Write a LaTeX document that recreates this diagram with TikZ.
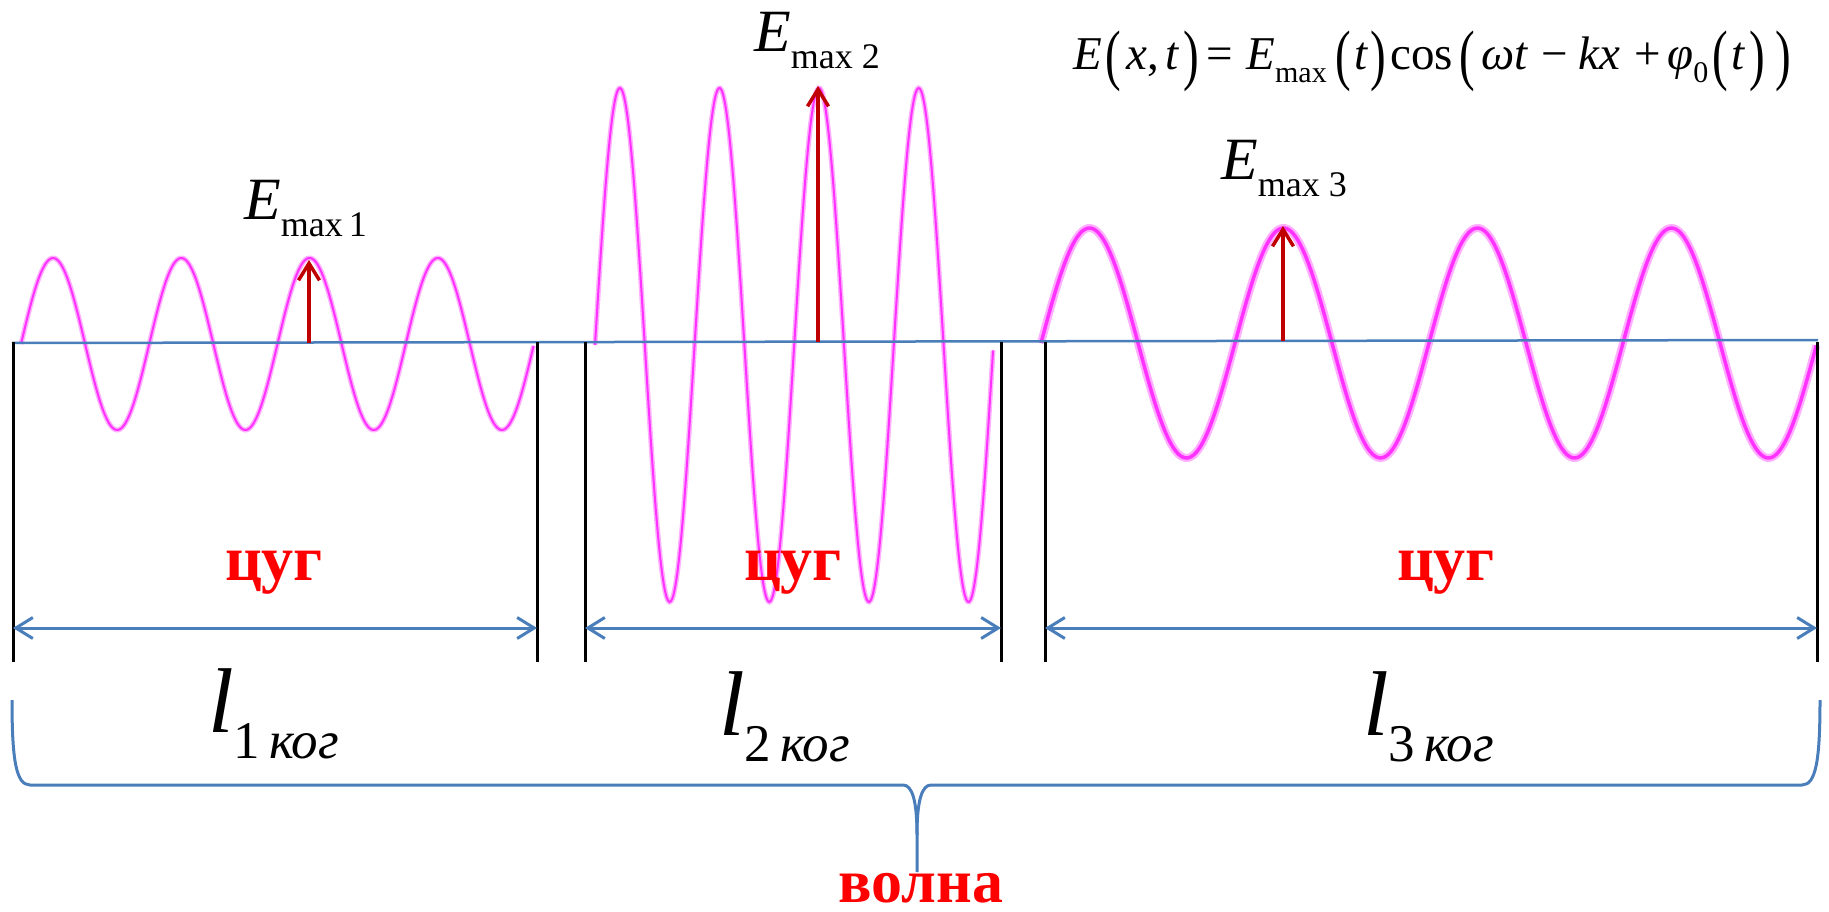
\documentclass[tikz,border=0pt]{standalone}
\usepackage{fontspec}
\setmainfont{Liberation Serif}
\usepackage{graphicx}
\usetikzlibrary{arrows.meta}
\definecolor{axisblue}{RGB}{74,126,187}
\definecolor{wavepink}{RGB}{255,50,255}
\definecolor{wavepinklight}{RGB}{255,175,255}
\definecolor{arrred}{RGB}{192,0,0}
\definecolor{lblred}{RGB}{255,0,0}
\newcommand\tallpar[1]{\raisebox{-0.15em}{\scalebox{1}[1.43]{#1}}}
\newcommand\fsub[1]{\raisebox{-13pt}{\fontsize{30}{30}\selectfont #1}}
\newcommand\esub[1]{\raisebox{-17pt}{\fontsize{36}{36}\selectfont #1}}
\newcommand\lsub[2]{\raisebox{-26pt}{\fontsize{53}{53}\selectfont #1\,\textit{#2}}}
\newcommand\gp[1]{\hskip #1pt plus #1pt\relax}
\begin{document}
\begin{tikzpicture}[x=1pt,y=-1pt,
  wave/.style={line width=2.5pt, wavepink},
  waveglow/.style={line width=5pt, wavepinklight},
  axisline/.style={line width=2.5pt, axisblue},
  divider/.style={line width=3pt, black},
  span/.style={line width=3pt, axisblue, {Straight Barb[length=17pt,width=21pt]}-{Straight Barb[length=17pt,width=21pt]}},
  amparrow/.style={line width=3.5pt, arrred, -{Straight Barb[length=17pt,width=21pt]}},
  brace/.style={line width=3pt, axisblue},
  lbl/.style={inner sep=0pt, anchor=base west},
  tag/.style={inner sep=0pt, anchor=base, text=lblred, font=\fontsize{64}{64}\selectfont\bfseries},
]
\useasboundingbox (0,0) rectangle (1829,912);

% waves
\draw[waveglow] plot[domain=0:4, samples=300, smooth] ({21+128.25*\x}, {344-86*sin(360*\x)});
\draw[wave, line width=2pt] plot[domain=0:4, samples=300, smooth] ({21+128.25*\x}, {344-86*sin(360*\x)});
\draw[waveglow] plot[domain=0:4, samples=300, smooth] ({595+99.6*\x}, {345-257*sin(360*\x)});
\draw[wave, line width=2pt] plot[domain=0:4, samples=300, smooth] ({595+99.6*\x}, {345-257*sin(360*\x)});
\draw[waveglow, line width=8pt] plot[domain=0:4, samples=300, smooth] ({1041+194*\x}, {343-115*sin(360*\x)});
\draw[wave, line width=3.5pt] plot[domain=0:4, samples=300, smooth] ({1041+194*\x}, {343-115*sin(360*\x)});

% axis
\coordinate (axL) at (12,343);
\coordinate (axR) at (1818,340);
\draw[axisline] (axL) -- (axR);

% dividers
\foreach \n/\xx in {1/13, 2/537, 3/585, 4/1001, 5/1045, 6/1817} {
  \coordinate (d\n t) at (\xx,342);
  \coordinate (d\n b) at (\xx,662);
  \coordinate (d\n m) at (\xx,628);
  \draw[divider] (d\n t) -- (d\n b);
}

% spans
\draw[span] (d1m) -- (d2m);
\draw[span] (d3m) -- (d4m);
\draw[span] (d5m) -- (d6m);

% amplitude arrows
\coordinate (p1) at (309,343); \coordinate (q1) at (309,260);
\coordinate (p2) at (818,342); \coordinate (q2) at (818,86);
\coordinate (p3) at (1283,341); \coordinate (q3) at (1283,226);
\draw[amparrow] (p1) -- (q1);
\draw[amparrow] (p2) -- (q2);
\draw[amparrow] (p3) -- (q3);

% E labels
\node[lbl, font=\fontsize{60}{60}\selectfont] (e1) at (244,220) {\textit{E}\esub{max\,1}};
\node[lbl, font=\fontsize{60}{60}\selectfont] (e2) at (754,52) {\textit{E}\esub{max 2}};
\node[lbl, font=\fontsize{60}{60}\selectfont] (e3) at (1221,180) {\textit{E}\esub{max 3}};

% formula
\node[lbl, font=\fontsize{47}{47}\selectfont] (formula) at (1073,70)
  {\hbox to 718pt{\textit{E}\gp{3}\tallpar{(}\gp{4}\textit{x},\gp{5}\textit{t}\gp{3}\tallpar{)}\gp{6}=\gp{10}\textit{E}\fsub{max}\gp{7}\tallpar{(}\gp{2}\textit{t}\gp{2}\tallpar{)}\gp{3}cos\gp{5}\tallpar{(}\gp{5}\textit{ωt}\gp{10}−\gp{8}\textit{kx}\gp{11}+\gp{5}\textit{φ}\fsub{0}\gp{3}\tallpar{(}\gp{3}\textit{t}\gp{3}\tallpar{)}\gp{8}\tallpar{)}}};

% train labels
\node[tag] (t1) at (274,580) {цуг};
\node[tag] (t2) at (793,580) {цуг};
\node[tag] (t3) at (1446,580) {цуг};

% coherence lengths
\node[lbl, font=\fontsize{92}{92}\selectfont] (l1) at (208,732) {\textit{l}\lsub{1}{ког}};
\node[lbl, font=\fontsize{92}{92}\selectfont] (l2) at (719,735) {\textit{l}\lsub{2}{ког}};
\node[lbl, font=\fontsize{92}{92}\selectfont] (l3) at (1363,735) {\textit{l}\lsub{3}{ког}};

% brace
\coordinate (bL) at (12,700);
\coordinate (bR) at (1820,700);
\coordinate (bT) at (917,872);
\draw[brace, line join=round] (bL) .. controls (12,760) and (16,785) .. (30,785) -- (903,785)
  .. controls (912,785) and (917,800) .. (917,835) -- (bT);
\draw[brace, line join=round] (bR) .. controls (1820,760) and (1816,785) .. (1802,785) -- (931,785)
  .. controls (922,785) and (917,800) .. (917,835);

\node[tag, font=\fontsize{62}{62}\selectfont\bfseries] (wave) at (921,902) {волна};
\end{tikzpicture}
\end{document}
